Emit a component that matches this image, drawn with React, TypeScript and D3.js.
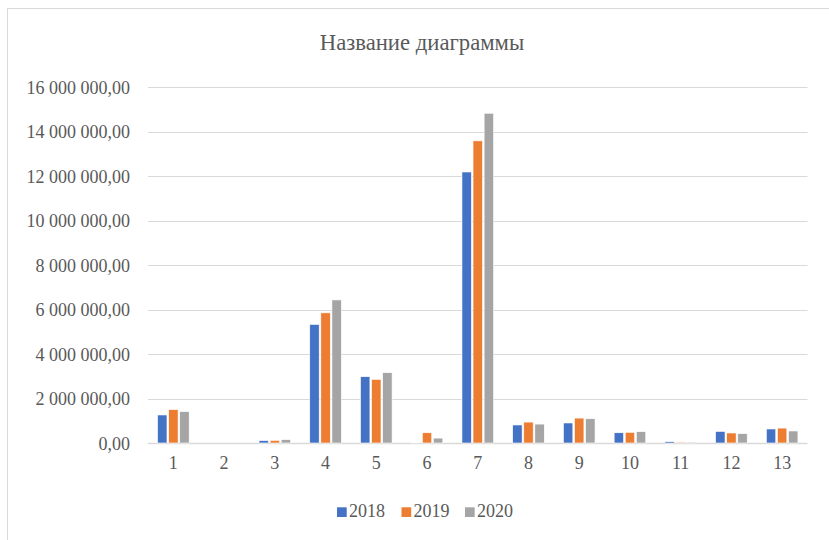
import React from "react";
import * as d3 from "d3";

const categories = ["1", "2", "3", "4", "5", "6", "7", "8", "9", "10", "11", "12", "13"];
const seriesNames = ["2018", "2019", "2020"];
const values2018 = [1260000, 0, 110000, 5330000, 2980000, 15000, 12180000, 810000, 900000, 460000, 60000, 520000, 630000];
const values2019 = [1500000, 0, 120000, 5850000, 2860000, 460000, 13580000, 940000, 1120000, 480000, 40000, 450000, 670000];
const values2020 = [1410000, 0, 150000, 6430000, 3160000, 220000, 14820000, 850000, 1090000, 510000, 40000, 420000, 540000];
const yTicks = [0, 2000000, 4000000, 6000000, 8000000, 10000000, 12000000, 14000000, 16000000];
const colors = ["#4472C4", "#ED7D31", "#A5A5A5"];
const title = "Название диаграммы";

const W = 829;
const H = 540;

export default function App() {
  const seriesValues = [values2018, values2019, values2020];
  const x0 = d3.scaleBand<string>().domain(categories).range([148, 807.5]).padding(0);
  const bw = x0.bandwidth();
  const groupW = 31.6;
  const x1 = d3
    .scaleBand<string>()
    .domain(seriesNames)
    .range([(bw - groupW) / 2, (bw + groupW) / 2])
    .paddingInner(0.15)
    .paddingOuter(0);
  const y = d3.scaleLinear().domain([0, 16000000]).range([443, 87]);
  const locale = d3.formatLocale({ decimal: ",", thousands: " ", grouping: [3], currency: ["", ""] });
  const fmt = locale.format(",.2f");
  const font = "Liberation Serif";
  const textColor = "#595959";

  const legendX = [337, 401.5, 465];

  return (
    <svg width={W} height={H} style={{ position: "absolute", left: 0, top: 0, background: "#fff", fontFamily: font }}>
      <rect x={0} y={0} width={W} height={H} fill="#fff" />
      <rect x={7.5} y={8.5} width={W + 10} height={H + 10} fill="none" stroke="#d9d9d9" strokeWidth={1} />
      <text x={422} y={50} textAnchor="middle" fontSize={22.7} fill={textColor} style={{ fontFamily: font }}>
        {title}
      </text>
      {yTicks.map((t) => (
        <g key={t}>
          <line x1={148} x2={807.5} y1={Math.round(y(t)) + 0.5} y2={Math.round(y(t)) + 0.5} stroke="#d9d9d9" strokeWidth={t === 0 ? 1.3 : 1} />
          <text x={130} y={y(t) + 6.5} textAnchor="end" fontSize={18} fill={textColor} style={{ fontFamily: font }}>
            {fmt(t)}
          </text>
        </g>
      ))}
      {categories.map((c, i) => (
        <g key={c} transform={`translate(${x0(c)},0)`}>
          {seriesNames.map((s, j) => {
            const v = seriesValues[j][i];
            const yy = y(v);
            return (
              <rect
                key={s}
                x={x1(s)}
                y={yy}
                width={x1.bandwidth()}
                height={Math.max(0, y(0) - yy)}
                fill={colors[j]}
                stroke="#fff"
                strokeWidth={0.6}
              />
            );
          })}
          <text x={bw / 2} y={469} textAnchor="middle" fontSize={18} fill={textColor} style={{ fontFamily: font }}>
            {c}
          </text>
        </g>
      ))}
      {seriesNames.map((s, j) => (
        <g key={s} transform={`translate(${legendX[j]},517)`}>
          <rect x={0} y={-9.7} width={9.7} height={9.7} fill={colors[j]} />
          <text x={12} y={0} fontSize={18} fill={textColor} style={{ fontFamily: font }}>
            {s}
          </text>
        </g>
      ))}
    </svg>
  );
}
